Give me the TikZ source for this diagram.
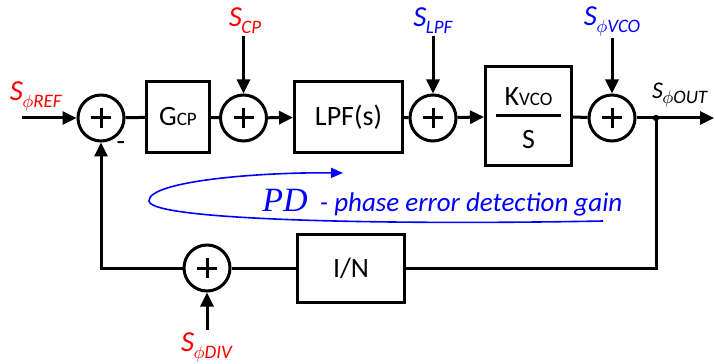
\documentclass[tikz,border=0pt]{standalone}
\usepackage{fontspec}
\setmainfont{Carlito}
\newfontfamily\pdfont{Liberation Serif}
\usetikzlibrary{arrows.meta, calc, positioning}
\definecolor{cRed}{HTML}{FF0000}
\definecolor{cBlue}{HTML}{0000FF}
\newcommand{\sigsub}[1]{\textit{S}\kern-0.3pt\raisebox{-0.5ex}{\fontsize{9.5}{10}\selectfont\textit{#1}}}
\newcommand{\sigphi}[1]{\sigsub{$\phi$#1}}
\newcommand{\smallsub}[1]{{\fontsize{9.5}{10}\selectfont #1}}

\begin{document}
\begin{tikzpicture}[
    x=0.5pt, y=-0.5pt,
    % ---------------------------------------------------------
    % ESTILOS BASE
    % ---------------------------------------------------------
    sumnode/.style={
        circle,
        draw,
        line width=1.5pt,
        minimum size=23pt,
        inner sep=0pt,
        path picture={
            \draw[line width=1.5pt] ([xshift=-5pt]path picture bounding box.center) -- ([xshift=5pt]path picture bounding box.center);
            \draw[line width=1.5pt] ([yshift=-5pt]path picture bounding box.center) -- ([yshift=5pt]path picture bounding box.center);
        }
    },
    block/.style={
        rectangle,
        draw,
        line width=1.5pt,
        inner sep=0pt,
        align=center,
        font=\fontsize{14}{16}\selectfont
    },
    wire/.style={
        line width=1.5pt
    },
    sig line/.style={
        line width=1.5pt,
        -{Triangle[length=7pt,width=6.5pt]}
    },
    sig label/.style={
        text=#1,
        inner sep=1pt,
        font=\fontsize{14.5}{16}\selectfont
    }
]
\useasboundingbox (0,0) rectangle (715,363);

% ---------------------------------------------------------
% 1. COORDENADAS
% ---------------------------------------------------------
\coordinate (in) at (22,118);
\coordinate (out) at (714,118);

% ---------------------------------------------------------
% 2. BLOQUES Y SUMADORES
% ---------------------------------------------------------
\node[sumnode] (sum1) at (101,118) {};
\node[block, minimum width=31.5pt, minimum height=35.5pt] (gcp) at (178,117) {G\smallsub{CP}};
\node[sumnode] (sum2) at (243.5,118) {};
\node[block, minimum width=54pt, minimum height=35.5pt] (lpf) at (348.5,117) {LPF(s)};
\node[sumnode] (sum3) at (433,118) {};
\node[block, minimum width=43pt, minimum height=49pt] (kvco) at (528.5,116) {};
\node[sumnode] (sum4) at (612,118) {};
\fill (656,118) circle (1.6pt) coordinate (dot);

\node[sumnode] (sum5) at (207,268) {};
\node[block, minimum width=53.5pt, minimum height=34pt] (div) at (351,268) {I/N};

% fraccion del VCO
\node[font=\fontsize{14}{16}\selectfont, inner sep=0pt] (kvcoNum) at (528.5,97) {K\smallsub{VCO}};
\node[font=\fontsize{14}{16}\selectfont, inner sep=0pt] (kvcoDen) at (528.5,140) {S};
\draw[wire] ([xshift=-16.5pt]kvco.center) -- ([xshift=16pt]kvco.center);

% ---------------------------------------------------------
% 3. ETIQUETAS DE SENALES
% ---------------------------------------------------------
\node[sig label=cRed] (sRef) at (36,96) {\sigphi{REF}};
\node[sig label=cRed] (sCp) at (245,21) {\sigsub{CP}};
\node[sig label=cBlue] (sLpf) at (433,21) {\sigsub{LPF}};
\node[sig label=cBlue] (sVco) at (612,21) {\sigphi{VCO}};
\node[sig label=black, font=\fontsize{12}{14}\selectfont] (sOut) at (680,95) {\sigphi{OUT}};
\node[sig label=cRed] (sDiv) at (207,347) {\sigphi{DIV}};
\node[font=\fontsize{14}{16}\selectfont] (minus) at (121,146) {-};

% ---------------------------------------------------------
% 4. CONEXIONES
% ---------------------------------------------------------
% camino directo
\draw[sig line] (in) -- (sum1);
\draw[wire] (sum1) -- (gcp);
\draw[wire] (gcp) -- (sum2);
\draw[sig line] (sum2) -- (lpf);
\draw[wire] (lpf) -- (sum3);
\draw[sig line] (sum3) -- (kvco);
\draw[wire] (kvco) -- (sum4);
\draw[wire] (sum4) -- (dot);
\draw[sig line] (dot) -- (out);

% realimentacion
\draw[wire] (dot) |- (div);
\draw[wire] (div) -- (sum5);
\draw[sig line] (sum5) -| (sum1);

% perturbaciones
\draw[sig line] (sum2 |- sCp.south) -- (sum2);
\draw[sig line] (sum3 |- sLpf.south) -- (sum3);
\draw[sig line] (sum4 |- sVco.south) -- (sum4);
\draw[sig line] (sum5 |- sDiv.north) -- (sum5);

% ---------------------------------------------------------
% 5. GANANCIA DEL DETECTOR
% ---------------------------------------------------------
\coordinate (pdEnd) at (603,221);
\coordinate (pdLeft) at (149,201);
\coordinate (pdTip) at (343,173);
\draw[cBlue, line width=0.8pt, -{Triangle[length=6pt,width=5pt]}]
    (pdEnd) .. controls (400,225) and (150,221) .. (pdLeft)
    .. controls (148,181) and (260,172) .. (pdTip);
\node[text=cBlue, inner sep=0pt, font=\fontsize{13.5}{16}\selectfont, anchor=west] (pdGain) at (262,203)
    {{\pdfont\fontsize{17}{18}\selectfont\itshape PD}\ \ \textit{- phase error detection gain}};

\end{tikzpicture}
\end{document}
